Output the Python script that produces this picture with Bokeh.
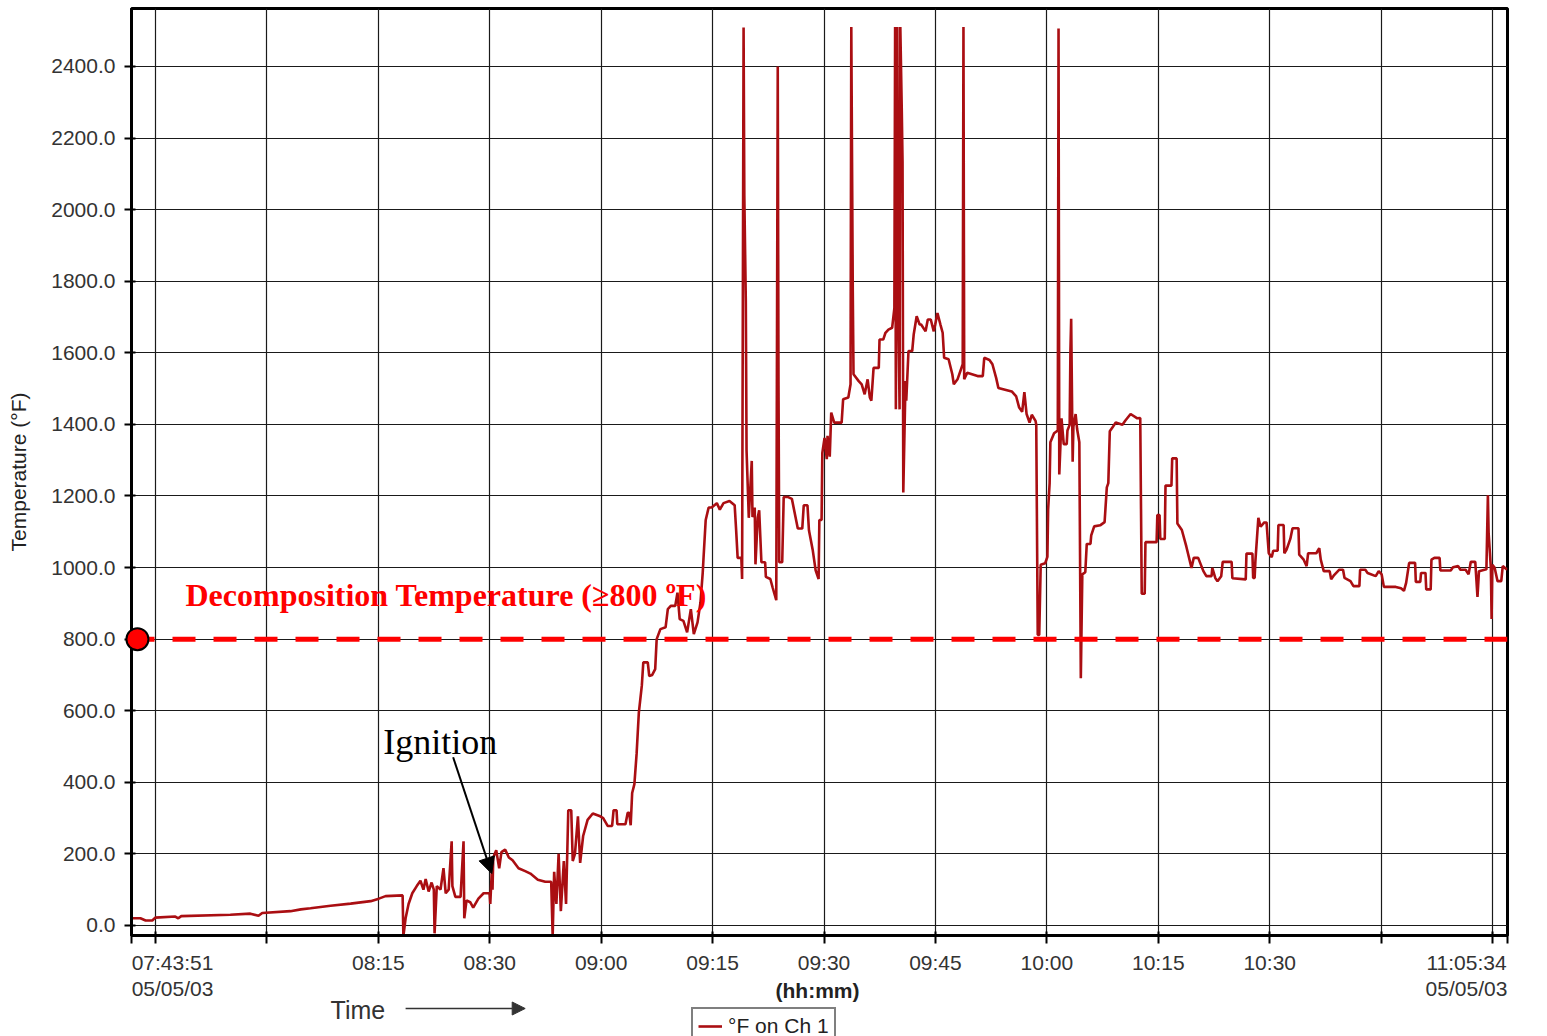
from bokeh.plotting import figure
from bokeh.layouts import column
from bokeh.models import (Range1d, FixedTicker, Label, Arrow, NormalHead, Span,
                          Legend, LegendItem, NumeralTickFormatter,
                          CustomJSTickFormatter, ColumnDataSource)
from bokeh.embed import file_html
from bokeh.resources import INLINE

# ---- data: elapsed minutes (chart scale, from 07:43:51) and temperature (deg F) ----
elapsed_min = [
    0.0, 1.2, 1.9, 2.8, 3.2, 5.9, 6.3, 6.7, 13.3, 16.0, 17.1, 17.6, 21.4, 22.8, 24.1, 26.8,
    29.5, 32.2, 33.3, 34.2, 36.5, 36.6, 36.9, 37.3, 37.8, 38.4, 38.9, 39.3, 39.6, 40.0, 40.4,
    40.7, 40.8, 41.1, 41.6, 42.0, 42.3, 42.7, 43.1, 43.2, 43.6, 44.3, 44.7, 44.8, 45.1, 45.6,
    46.0, 46.7, 47.4, 48.2, 48.3, 48.5, 48.6, 48.7, 49.1, 49.5, 49.8, 50.3, 50.8, 51.3, 52.1,
    53.0, 53.7, 54.7, 55.7, 56.5, 56.7, 56.9, 57.2, 57.5, 57.8, 58.2, 58.5, 58.8, 59.2, 59.4,
    59.7, 60.1, 60.4, 60.8, 61.4, 62.1, 63.1, 63.5, 64.1, 64.7, 64.9, 65.3, 65.4, 66.5, 66.8,
    67.0, 67.2, 67.4, 67.7, 68.0, 68.3, 68.7, 68.9, 69.5, 69.7, 70.1, 70.5, 70.7, 71.2, 71.9,
    72.2, 72.6, 73.2, 73.5, 73.8, 74.3, 74.8, 75.3, 75.7, 76.2, 76.6, 76.9, 77.0, 77.3, 77.7,
    78.1, 78.8, 79.2, 79.7, 80.5, 81.2, 81.4, 81.6, 82.1, 82.2, 82.4, 82.5, 82.7, 82.8, 83.1,
    83.5, 83.6, 83.9, 84.0, 84.3, 84.5, 84.8, 85.3, 85.4, 86.0, 86.3, 86.8, 87.0, 87.1, 87.2,
    87.6, 87.8, 88.4, 88.9, 89.7, 90.3, 90.5, 91.0, 91.2, 91.7, 92.1, 92.5, 92.6, 92.9, 93.0,
    93.3, 93.6, 93.7, 94.0, 94.2, 94.6, 95.6, 95.8, 96.5, 96.8, 96.9, 97.1, 97.2, 97.9, 98.3,
    98.7, 99.1, 99.4, 99.6, 99.9, 100.6, 100.7, 101.2, 101.5, 101.9, 102.4, 102.7, 102.8, 102.9,
    103.1, 103.2, 103.4, 103.5, 103.7, 103.8, 103.9, 104.2, 104.3, 104.6, 105.1, 105.3, 105.7,
    106.1, 106.3, 106.9, 107.2, 107.6, 108.0, 108.2, 108.5, 108.9, 109.2, 109.4, 110.0, 110.5,
    110.7, 111.2, 111.9, 112.0, 112.1, 112.5, 113.9, 114.6, 114.8, 115.5, 115.9, 116.4, 116.7,
    118.5, 119.1, 119.5, 119.9, 120.2, 120.5, 120.9, 121.2, 121.7, 121.8, 122.0, 122.2, 122.4,
    123.0, 123.3, 123.4, 123.6, 123.7, 124.2, 124.7, 124.8, 124.9, 125.2, 125.5, 125.9, 126.0,
    126.3, 126.4, 126.5, 126.7, 126.8, 127.1, 127.3, 127.6, 127.8, 128.0, 128.4, 128.6, 129.1,
    129.2, 129.6, 130.4, 131.0, 131.3, 131.5, 131.7, 132.1, 132.5, 133.4, 133.8, 134.5, 135.4,
    135.8, 136.0, 136.4, 136.5, 138.0, 138.1, 138.4, 138.5, 139.1, 139.2, 140.0, 140.1, 140.7,
    140.8, 141.4, 142.0, 142.7, 143.0, 143.6, 144.3, 144.7, 145.4, 145.5, 145.9, 146.2, 146.7,
    146.9, 148.1, 148.2, 150.0, 150.1, 150.9, 151.0, 151.2, 151.3, 151.7, 152.0, 152.5, 152.8,
    153.1, 153.5, 153.7, 154.3, 154.4, 155.1, 155.2, 155.5, 156.0, 156.3, 157.1, 157.2, 157.8,
    158.2, 158.4, 159.5, 159.9, 160.1, 160.5, 161.3, 161.5, 161.9, 162.6, 163.1, 163.3, 164.1,
    164.5, 165.3, 165.4, 166.1, 166.4, 167.5, 167.9, 168.3, 168.6, 170.2, 170.9, 171.3, 171.6,
    172.0, 172.8, 172.9, 173.5, 173.6, 174.2, 174.3, 174.9, 175.0, 175.4, 176.1, 176.2, 177.6,
    177.9, 178.6, 178.9, 179.6, 180.0, 180.3, 180.9, 181.2, 181.4, 182.4, 182.6, 182.7, 183.0,
    183.1, 183.2, 183.5, 183.9, 184.4, 184.6, 185.2,
]
temp_f = [
    20, 20, 14, 14, 22, 25, 20, 26, 30, 33, 27, 35, 40, 45, 48, 55,
    61, 68, 75, 82, 84, -30, 20, 60, 90, 110, 125, 100, 130, 95, 120,
    100, -22, 110, 100, 160, 90, 100, 235, 110, 80, 80, 235, 20, 70, 65,
    50, 75, 90, 90, 60, 150, 100, 190, 210, 160, 205, 212, 190, 182, 160,
    152, 145, 128, 122, 122, -30, 150, 60, 200, 40, 180, 60, 322, 322, 180,
    200, 305, 175, 250, 295, 313, 305, 300, 278, 278, 322, 322, 283, 283, 315,
    315, 280, 370, 395, 480, 595, 670, 735, 735, 697, 700, 716, 800, 828, 833,
    884, 893, 893, 930, 856, 851, 819, 884, 814, 847, 903, 986, 1024, 1133, 1168,
    1168, 1180, 1162, 1180, 1186, 1174, 1104, 1027, 1027, 968, 2509, 2039, 1745, 1327, 1139,
    1298, 1141, 1168, 1009, 1139, 1160, 1015, 1015, 974, 968, 945, 909, 2400, 1521, 1015,
    1015, 1197, 1197, 1192, 1109, 1109, 1174, 1174, 1104, 1050, 992, 968, 1133, 1133, 1320,
    1362, 1303, 1368, 1310, 1433, 1405, 1405, 1470, 1475, 1512, 2510, 1772, 1540, 1521, 1512,
    1484, 1526, 1475, 1466, 1558, 1558, 1637, 1637, 1656, 1665, 1670, 1725, 2510, 1442,
    2510, 1790, 1442, 2510, 2273, 2134, 1210, 1521, 1466, 1605, 1605, 1651, 1702,
    1679, 1679, 1660, 1693, 1693, 1660, 1679, 1711, 1679, 1656, 1586, 1582, 1540,
    1512, 1526, 1568, 2510, 1526, 1544, 1535, 1535, 1586, 1580, 1568, 1530, 1502,
    1492, 1478, 1447, 1435, 1490, 1429, 1405, 1427, 1410, 1399, 812, 812, 1008,
    1012, 1030, 1163, 1236, 1350, 1375, 1383, 2506, 1260, 1417, 1345, 1345, 1383,
    1399, 1605, 1695, 1296, 1393, 1429, 1387, 1350, 691, 981, 987, 1066, 1066,
    1090, 1115, 1118, 1127, 1224, 1236, 1381, 1393, 1405, 1399, 1411, 1429, 1417,
    1418, 927, 927, 1071, 1071, 1147, 1147, 1080, 1080, 1229, 1229, 1305, 1305,
    1123, 1105, 1059, 999, 1027, 1027, 990, 976, 976, 999, 971, 962, 976,
    1016, 1016, 970, 967, 1039, 1039, 971, 971, 1018, 1139, 1114, 1126, 1126,
    1040, 1029, 1047, 1047, 1119, 1119, 1040, 1050, 1080, 1110, 1110, 1036, 1022,
    1004, 1040, 1040, 1054, 1022, 990, 990, 967, 979, 994, 994, 971, 962,
    948, 948, 994, 994, 985, 976, 990, 981, 946, 946, 942, 935, 958,
    1013, 1013, 960, 960, 985, 985, 939, 939, 1022, 1027, 1027, 992, 992,
    1001, 1004, 994, 994, 981, 1016, 1016, 918, 990, 995, 1202, 1096, 1000,
    856, 1008, 1000, 962, 962, 1004, 994,
]

# tick marks / grid lines (chart minutes) and tick labels
x_mark_pos = [0.0, 3.23, 18.23, 33.23, 48.23, 63.23, 78.23, 93.23, 108.23, 123.23,
              138.23, 153.23, 168.23, 183.23, 185.24]
x_label_pos = [5.52, 33.23, 48.23, 63.23, 78.23, 93.23, 108.23, 123.23, 138.23, 153.23, 179.72]
x_label_text = ["07:43:51", "08:15", "08:30", "09:00", "09:15", "09:30", "09:45",
                "10:00", "10:15", "10:30", "11:05:34"]
date_label_pos = [5.52, 179.72]
date_label_text = ["05/05/03", "05/05/03"]
y_ticks = [0, 200, 400, 600, 800, 1000, 1200, 1400, 1600, 1800, 2000, 2200, 2400]
threshold_f = 800
threshold_marker_x = [0.8, 189.7]

X_START, X_END = 0.0, 185.24
Y_START, Y_END = -28, 2562
LINE_COLOR = "#AA0E12"
TICK_TEXT = "#333333"

xr = Range1d(X_START, X_END)

p = figure(frame_width=1376, frame_height=927, output_backend="svg", toolbar_location=None,
           x_range=xr, y_range=Range1d(Y_START, Y_END),
           min_border_left=131, min_border_right=38, min_border_top=8, min_border_bottom=40,
           background_fill_color="white", border_fill_color="white")
p.outline_line_color = "black"
p.outline_line_width = 3

# grid
p.xgrid.ticker = FixedTicker(ticks=x_mark_pos[1:-1])
p.ygrid.ticker = FixedTicker(ticks=y_ticks)
p.grid.grid_line_color = "#1a1a1a"
p.grid.grid_line_width = 1.2

# axes
p.xaxis.ticker = FixedTicker(ticks=x_label_pos, minor_ticks=x_mark_pos)
p.xaxis.formatter = CustomJSTickFormatter(
    args=dict(pos=x_label_pos, labels=x_label_text),
    code="const i = pos.findIndex(v => Math.abs(v - tick) < 1e-6); return i >= 0 ? labels[i] : '';")
p.yaxis.ticker = FixedTicker(ticks=y_ticks)
p.yaxis.formatter = NumeralTickFormatter(format="0.0")
for ax in (p.xaxis[0], p.yaxis[0]):
    ax.axis_line_color = "black"
    ax.axis_line_width = 3
    ax.major_label_text_font = "Liberation Sans"
    ax.major_label_text_font_size = "21px"
    ax.major_label_text_color = TICK_TEXT
    ax.axis_label_text_font = "Liberation Sans"
    ax.axis_label_text_font_size = "21px"
    ax.axis_label_text_color = "#222222"
p.xaxis.major_tick_line_color = None
p.xaxis.major_tick_out = 8
p.xaxis.major_tick_in = 0
p.xaxis.minor_tick_line_color = "black"
p.xaxis.minor_tick_line_width = 2
p.xaxis.minor_tick_in = 4
p.xaxis.minor_tick_out = 8
p.xaxis.major_label_standoff = 7
p.yaxis.major_tick_line_color = "black"
p.yaxis.major_tick_line_width = 2
p.yaxis.minor_tick_line_color = None
p.yaxis.major_tick_in = 4
p.yaxis.major_tick_out = 7
p.yaxis.major_label_standoff = 9
p.yaxis.axis_label = "Temperature (°F)"
p.yaxis.axis_label_text_font_style = "normal"
p.yaxis.axis_label_standoff = 18

# data line
src = ColumnDataSource(dict(t=elapsed_min, f=temp_f))
line_r = p.line("t", "f", source=src, line_color=LINE_COLOR, line_width=2.6)

# decomposition threshold
p.add_layout(Span(location=threshold_f, dimension="width", line_color="#FF0000",
                  line_width=5, line_dash="23 18"))
mk = p.scatter(x=threshold_marker_x, y=[threshold_f, threshold_f], size=22,
               fill_color="#FF0000", line_color="black", line_width=2)
mk.level = "overlay"

p.add_layout(Label(x=7.27, y=922, text="Decomposition Temperature (≥800 ºF)",
                   text_font="Liberation Serif", text_font_style="bold",
                   text_font_size="32px", text_color="#FF0000", text_baseline="alphabetic"))

# ignition annotation
p.add_layout(Label(x=33.9, y=512, text="Ignition", text_font="Liberation Serif",
                   text_font_size="36px", text_color="black", text_baseline="alphabetic"))
p.add_layout(Arrow(x_start=43.3, y_start=470, x_end=48.5, y_end=145,
                   line_color="black", line_width=2,
                   end=NormalHead(size=16, fill_color="black", line_color="black")))

# ---- strip below the axis: dates, "(hh:mm)", "Time ->" and the legend ----
# y of this strip: 3000 + pixels above its bottom edge (above all data, so the
# legend's renderer stays out of view)
q = figure(frame_width=1376, frame_height=60, output_backend="svg", toolbar_location=None,
           x_range=xr, y_range=Range1d(3000, 3060), x_axis_location=None, y_axis_location=None,
           min_border_left=131, min_border_right=38, min_border_top=0, min_border_bottom=0,
           background_fill_color="white", border_fill_color="white")
q.outline_line_color = None
q.grid.visible = False

for xd, txt in zip(date_label_pos, date_label_text):
    q.add_layout(Label(x=xd, y=3048, text=txt, text_align="center", text_baseline="middle",
                       text_font="Liberation Sans", text_font_size="21px", text_color=TICK_TEXT))
q.add_layout(Label(x=92.35, y=3046, text="(hh:mm)", text_align="center", text_baseline="middle",
                   text_font="Liberation Sans", text_font_style="bold",
                   text_font_size="21px", text_color="#222222"))
q.add_layout(Label(x=26.8, y=3027, text="Time", text_align="left", text_baseline="middle",
                   text_font="Liberation Sans", text_font_size="25px", text_color=TICK_TEXT))
q.add_layout(Arrow(x_start=36.9, y_start=3028, x_end=53.0, y_end=3028,
                   line_color=TICK_TEXT, line_width=1.5,
                   end=NormalHead(size=13, fill_color=TICK_TEXT, line_color=TICK_TEXT)))

legend_line = q.line("t", "f", source=src, line_color=LINE_COLOR, line_width=2.6)
legend = Legend(items=[LegendItem(label="°F on Ch 1", renderers=[legend_line])],
                location=(560, -9), orientation="horizontal",
                border_line_color="black", border_line_width=2,
                label_text_font="Liberation Sans", label_text_font_size="21px",
                label_text_color="#222222",
                glyph_width=24, glyph_height=20, padding=5, margin=0, label_standoff=6,
                background_fill_color="white", background_fill_alpha=1)
q.add_layout(legend, "center")

layout = column(p, q, spacing=0)
open("out.html", "w").write(file_html(layout, INLINE))
